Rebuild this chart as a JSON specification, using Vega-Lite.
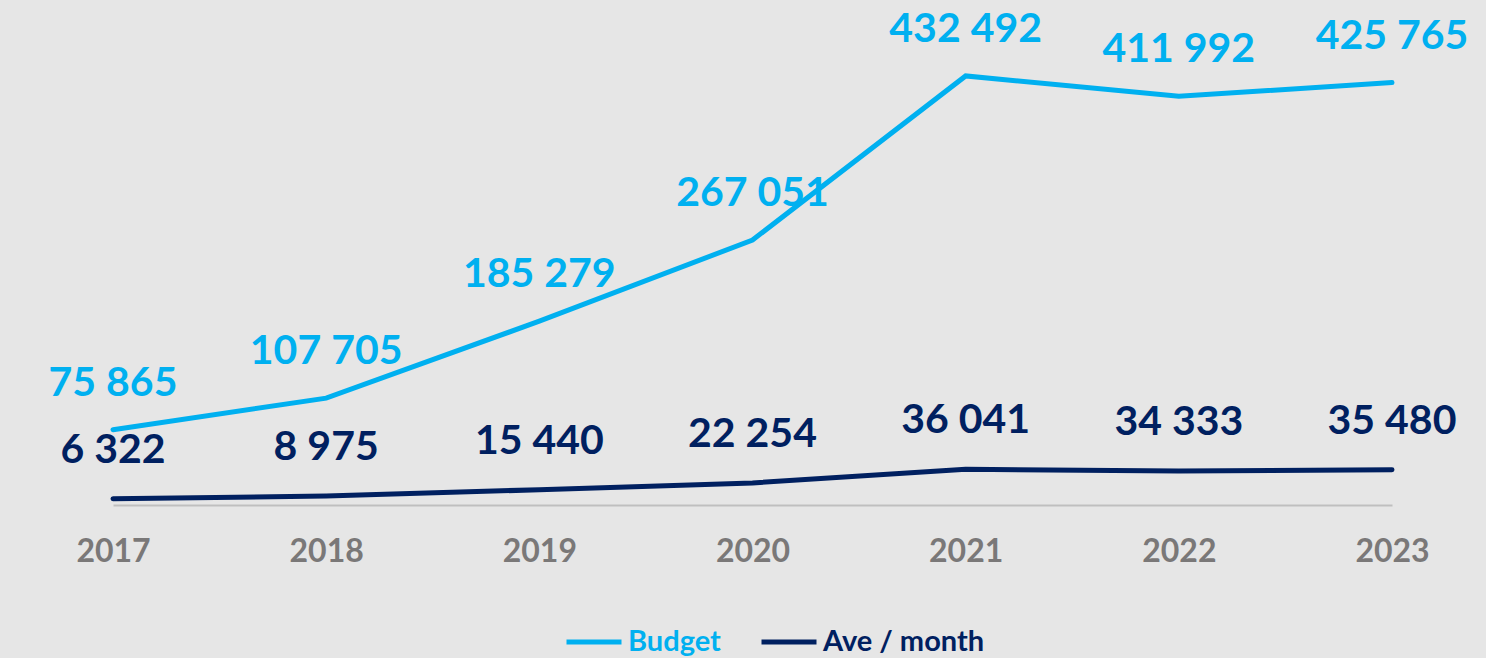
{
  "$schema": "https://vega.github.io/schema/vega-lite/v6.json",
  "width": 1477,
  "height": 505,
  "padding": {"left": 9, "top": 0, "right": 0, "bottom": 153},
  "autosize": {"type": "none"},
  "background": "#e6e6e6",
  "config": {
    "view": {"stroke": null},
    "font": "Lato",
    "locale": {"number": {"decimal": ".", "thousands": " ", "grouping": [3], "currency": ["", ""]}}
  },
  "data": {
    "values": [
      {"year": "2017", "series": "Budget", "value": 75865},
      {"year": "2018", "series": "Budget", "value": 107705},
      {"year": "2019", "series": "Budget", "value": 185279},
      {"year": "2020", "series": "Budget", "value": 267051},
      {"year": "2021", "series": "Budget", "value": 432492},
      {"year": "2022", "series": "Budget", "value": 411992},
      {"year": "2023", "series": "Budget", "value": 425765},
      {"year": "2017", "series": "Ave / month", "value": 6322},
      {"year": "2018", "series": "Ave / month", "value": 8975},
      {"year": "2019", "series": "Ave / month", "value": 15440},
      {"year": "2020", "series": "Ave / month", "value": 22254},
      {"year": "2021", "series": "Ave / month", "value": 36041},
      {"year": "2022", "series": "Ave / month", "value": 34333},
      {"year": "2023", "series": "Ave / month", "value": 35480}
    ]
  },
  "encoding": {
    "x": {
      "field": "year", "type": "ordinal",
      "scale": {"type": "point", "range": [104, 1383], "padding": 0},
      "axis": {
        "title": null, "ticks": false, "grid": false,
        "domainColor": "#bfbfbf", "domainWidth": 2,
        "labelAngle": 0, "labelFont": "Lato", "labelFontSize": 32, "labelFontWeight": "bold",
        "labelColor": "#7a7878", "labelPadding": 31
      }
    },
    "y": {
      "field": "value", "type": "quantitative",
      "scale": {"domain": [0, 509000], "nice": false},
      "axis": null
    },
    "color": {
      "field": "series", "type": "nominal",
      "scale": {"domain": ["Budget", "Ave / month"], "range": ["#00b0f0", "#002060"]},
      "legend": null
    }
  },
  "layer": [
    {
      "mark": {"type": "line", "strokeWidth": 5, "strokeCap": "round", "strokeJoin": "miter"},
      "encoding": {
        "color": {
          "field": "series", "type": "nominal",
          "scale": {"domain": ["Budget", "Ave / month"], "range": ["#00b0f0", "#002060"]},
          "legend": {
            "orient": "none", "legendX": 555, "legendY": 612,
            "direction": "horizontal", "title": null,
            "symbolType": "stroke", "symbolSize": 3025, "symbolStrokeWidth": 5,
            "labelFont": "Lato", "labelFontSize": 29, "labelFontWeight": "bold",
            "labelOffset": 4, "columnPadding": 30, "labelLimit": 400,
            "encode": {
              "labels": {"update": {"fill": {"signal": "datum.value === 'Budget' ? '#00b0f0' : '#002060'"}}}
            }
          }
        }
      }
    },
    {
      "transform": [{"filter": "datum.series === 'Budget'"}],
      "mark": {"type": "text", "dy": -46, "fontSize": 41, "fontWeight": "bold", "font": "Lato"},
      "encoding": {"text": {"field": "value", "type": "quantitative", "format": ",d"}}
    },
    {
      "transform": [{"filter": "datum.series === 'Ave / month'"}],
      "mark": {"type": "text", "dy": -48, "fontSize": 41, "fontWeight": "bold", "font": "Lato"},
      "encoding": {"text": {"field": "value", "type": "quantitative", "format": ",d"}}
    }
  ]
}
